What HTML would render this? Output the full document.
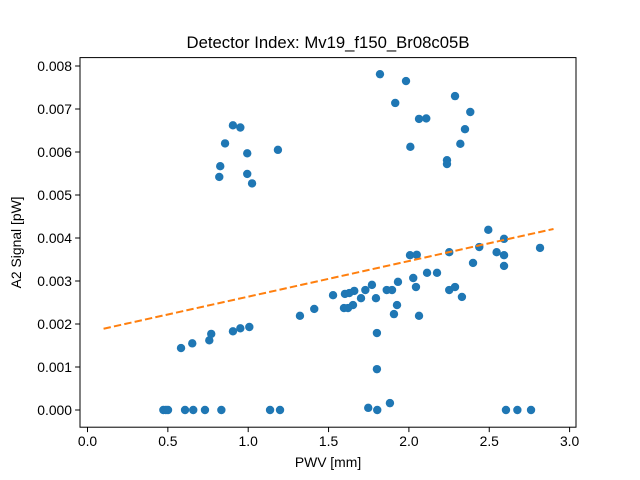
<!DOCTYPE html>
<html><head><meta charset="utf-8"><style>
body{margin:0;background:#fff;}
svg{display:block;font-family:"Liberation Sans","DejaVu Sans",sans-serif;}
</style></head><body>
<svg id="chart" width="640" height="480"></svg>
<script>
const pwv=[0.905,0.951,0.856,0.994,1.185,0.826,0.820,0.994,1.024,
0.582,0.652,0.758,0.770,0.905,0.951,1.007,1.322,1.411,
0.472,0.488,0.501,0.607,0.658,0.731,0.833,1.136,1.198,
1.820,1.982,1.915,2.287,2.382,2.063,2.108,2.349,2.320,2.009,2.237,2.237,
2.494,2.592,2.438,2.816,2.251,2.007,2.049,2.546,2.592,2.399,2.592,2.113,2.175,2.027,1.932,2.044,1.770,1.729,1.660,1.629,1.602,1.528,1.862,1.895,1.702,1.795,2.251,2.287,2.330,1.652,1.596,1.621,1.926,1.907,2.063,1.801,1.801,1.747,1.803,1.882,2.604,2.675,2.760];
const signal=[0.00662,0.00657,0.00620,0.00597,0.00605,0.00567,0.00542,0.00549,0.00527,
0.00144,0.00155,0.00162,0.00177,0.00183,0.00190,0.00193,0.00219,0.00235,
0,0,0,0,0,0,0,0,0,
0.00781,0.00765,0.00714,0.00730,0.00693,0.00677,0.00678,0.00653,0.00619,0.00612,0.00581,0.00572,
0.00419,0.00398,0.00379,0.00377,0.00367,0.00360,0.00361,0.00367,0.00360,0.00342,0.00335,0.00319,0.00319,0.00307,0.00298,0.00286,0.00291,0.00279,0.00277,0.00272,0.00270,0.00267,0.00279,0.00279,0.00260,0.00260,0.00279,0.00286,0.00263,0.00244,0.00237,0.00237,0.00244,0.00223,0.00219,0.00179,0.00095,0.00005,0,0.00016,0,0,0];
const fitX=[0.1,2.9];
const fitY=[0.00189,0.00421];
const xTicks=[0,0.5,1.0,1.5,2.0,2.5,3.0];
const xTickLabels=["0.0","0.5","1.0","1.5","2.0","2.5","3.0"];
const yTicks=[0,0.001,0.002,0.003,0.004,0.005,0.006,0.007,0.008];
const yTickLabels=["0.000","0.001","0.002","0.003","0.004","0.005","0.006","0.007","0.008"];

const NS="http://www.w3.org/2000/svg";
const svg=document.getElementById('chart');
const L=80,T=57.6,W=496,H=369.6;
function sx(v){return 87.5+v*160.7;}
function sy(v){return 410-v*43000;}
function mk(tag,attrs,parent){const e=document.createElementNS(NS,tag);for(const k in attrs)e.setAttribute(k,attrs[k]);(parent||svg).appendChild(e);return e;}

const title=mk('text',{x:L+W/2,y:48,'text-anchor':'middle','font-size':'16.7',fill:'#000'});
title.textContent='Detector Index: Mv19_f150_Br08c05B';



const pts=mk('g',{});


for(let i=0;i<pwv.length;i++){
  const c=mk('circle',{cx:sx(pwv[i]),cy:sy(signal[i]),r:4.2,fill:'#1f77b4'},pts);
  
  
}
const fit=mk('line',{x1:sx(fitX[0]),y1:sy(fitY[0]),x2:sx(fitX[1]),y2:sy(fitY[1]),stroke:'#ff7f0e','stroke-width':2,'stroke-dasharray':'7.4,3.2'});



const frame=mk('rect',{x:L,y:T,width:W,height:H,fill:'none',stroke:'#000','stroke-width':1});



for(let i=0;i<xTicks.length;i++){
  const x=sx(xTicks[i]);
  mk('line',{x1:x,y1:T+H,x2:x,y2:T+H+4.9,stroke:'#000','stroke-width':1});
  const t=mk('text',{x:x,y:T+H+19,'text-anchor':'middle','font-size':'13.9'});
  t.textContent=xTickLabels[i];
  
  
}
for(let i=0;i<yTicks.length;i++){
  const y=sy(yTicks[i]);
  mk('line',{x1:L-4.9,y1:y,x2:L,y2:y,stroke:'#000','stroke-width':1});
  const t=mk('text',{x:L-8,y:y+5,'text-anchor':'end','font-size':'13.9'});
  t.textContent=yTickLabels[i];
  
  
}
const xl=mk('text',{x:L+W/2,y:467,'text-anchor':'middle','font-size':'13.9'});
xl.textContent='PWV [mm]';


const yl=mk('text',{x:0,y:0,'text-anchor':'middle','font-size':'13.9',transform:'translate(21,'+(T+H/2)+') rotate(-90)'});
yl.textContent='A2 Signal [pW]';


</script>
</body></html>
